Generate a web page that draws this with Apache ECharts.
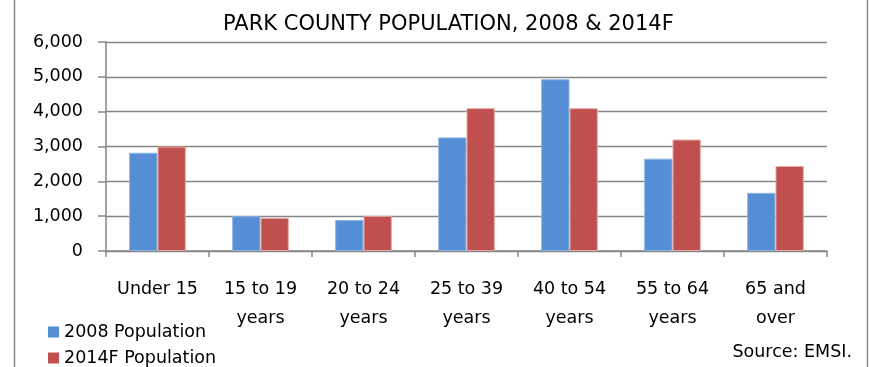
<!DOCTYPE html>
<html>
<head>
<meta charset="utf-8">
<script src="https://cdn.jsdelivr.net/npm/echarts@6/dist/echarts.min.js"></script>
<style>html,body{margin:0;padding:0;background:#fff;}#c{width:869px;height:367px;}</style>
</head>
<body>
<div id="c"></div>
<script>
const categories = ["Under 15", "15 to 19\nyears", "20 to 24\nyears", "25 to 39\nyears", "40 to 54\nyears", "55 to 64\nyears", "65 and\nover"];
const pop2008 = [2820, 1000, 890, 3260, 4930, 2650, 1670];
const pop2014F = [3000, 950, 1010, 4100, 4100, 3200, 2440];
const seriesNames = ["2008 Population", "2014F Population"];
const yTicks = [0, 1000, 2000, 3000, 4000, 5000, 6000];
const titleText = "PARK COUNTY POPULATION, 2008 & 2014F";
const sourceText = "Source: EMSI.";

const FONT = "DejaVu Sans";
const legendBase = {
  orient: 'vertical', left: 43, itemWidth: 11, itemHeight: 11,
  icon: 'rect', itemStyle: {borderWidth: 0},
  textStyle: {fontFamily: FONT, fontSize: 17.5, color: '#000'}
};
const chart = echarts.init(document.getElementById('c'), null, {renderer: 'canvas'});
chart.setOption({
  animation: false,
  backgroundColor: '#fff',
  textStyle: {fontFamily: FONT, color: '#000'},
  title: {
    text: titleText, left: 218, top: 9,
    textStyle: {fontFamily: FONT, fontSize: 21, fontWeight: 'normal', color: '#000'}
  },
  grid: {left: 106, right: 42, top: 42, bottom: 116, containLabel: false},
  legend: [
    Object.assign({}, legendBase, {top: 318, data: [seriesNames[0]]}),
    Object.assign({}, legendBase, {top: 344, data: [seriesNames[1]]})
  ],
  xAxis: {
    type: 'category', data: categories,
    axisLine: {lineStyle: {color: '#868686', width: 1.5}},
    axisTick: {show: true, length: 6, lineStyle: {color: '#868686', width: 1.5}},
    axisLabel: {fontFamily: FONT, fontSize: 17.5, color: '#000', margin: 24, lineHeight: 29, interval: 0}
  },
  yAxis: {
    type: 'value', min: yTicks[0], max: yTicks[yTicks.length-1], interval: yTicks[1]-yTicks[0],
    axisLine: {show: true, lineStyle: {color: '#868686', width: 1.5}},
    axisTick: {show: true, length: 8, lineStyle: {color: '#868686', width: 1.5}},
    splitLine: {lineStyle: {color: '#868686', width: 1.3}},
    axisLabel: {fontFamily: FONT, fontSize: 17.5, color: '#000', margin: 23,
      formatter: v => v.toLocaleString('en-US')}
  },
  series: [
    {name: seriesNames[0], type: 'bar', data: pop2008, barGap: '0%', barCategoryGap: '45%',
     itemStyle: {color: '#558ED5', borderColor: '#8DB4E2', borderWidth: 1}},
    {name: seriesNames[1], type: 'bar', data: pop2014F, barGap: '0%', barCategoryGap: '45%',
     itemStyle: {color: '#C0504D', borderColor: '#E6A9A7', borderWidth: 1}}
  ],
  graphic: [
    {type: 'line', shape: {x1: 14.5, y1: 0, x2: 14.5, y2: 367}, style: {stroke: '#8a8a8a', lineWidth: 1.5}},
    {type: 'line', shape: {x1: 867.5, y1: 0, x2: 867.5, y2: 367}, style: {stroke: '#8a8a8a', lineWidth: 1.5}},
    {type: 'text', right: 17, top: 343, style: {text: sourceText, font: '17.5px "DejaVu Sans"', fill: '#000'}}
  ]
});
</script>
</body>
</html>
